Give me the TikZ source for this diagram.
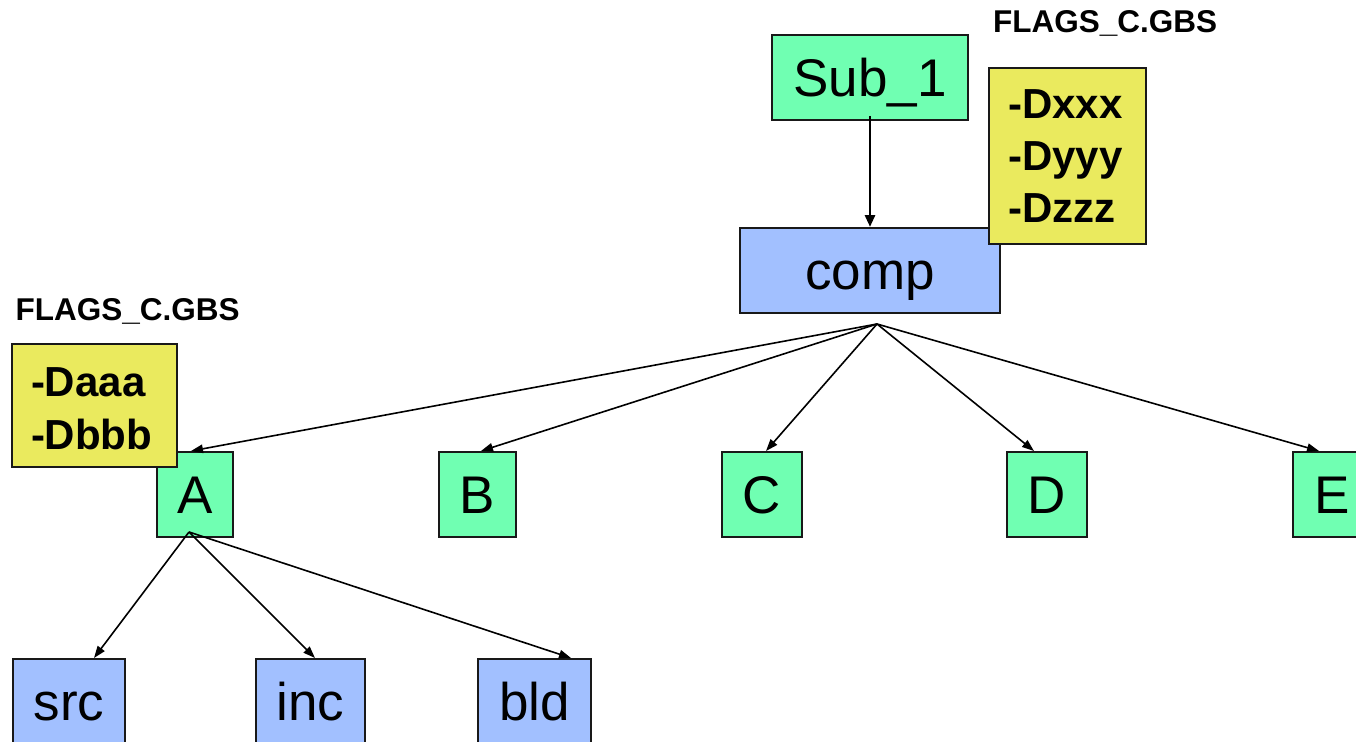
\documentclass[tikz,border=0pt]{standalone}
\usepackage{fontspec}
\setmainfont{Liberation Sans}
\usetikzlibrary{arrows.meta}
\definecolor{boxgreen}{RGB}{112,255,178}
\definecolor{boxblue}{RGB}{162,192,255}
\definecolor{flagyellow}{RGB}{234,234,94}
\definecolor{edgegray}{RGB}{25,25,25}
\begin{document}
\begin{tikzpicture}[x=1pt,y=-1pt,
  basebox/.style={draw=edgegray, line width=2pt, inner sep=0pt, anchor=north west,
    font=\fontsize{53}{60}\selectfont, text height=38pt, text depth=0pt, minimum height=85pt},
  dirbox/.style={basebox, fill=boxgreen},
  leafbox/.style={basebox, fill=boxblue},
  flagbox/.style={draw=edgegray, line width=2pt, fill=flagyellow, anchor=north west,
    inner ysep=0pt, inner xsep=19pt, align=left, font=\fontsize{42}{52}\selectfont\bfseries},
  flaglabel/.style={anchor=base west, inner sep=0pt, font=\fontsize{31.5}{36}\selectfont\bfseries},
  link/.style={line width=1.6pt, -{Triangle[length=12pt,width=8.5pt]}},
  mainlink/.style={line width=2.8pt, -{Triangle[length=12pt,width=10pt]}}
]
\useasboundingbox (0,0) rectangle (1356,741);
\clip (0,0) rectangle (1356,741);

% top part
\node[dirbox, minimum width=196pt] (sub1) at (771,34) {Sub\_1};
\node[leafbox, minimum width=260pt] (comp) at (739,227) {comp};
\draw[mainlink] ([yshift=5pt]sub1.south) -- (comp.north);
\node[flagbox, text width=119pt, minimum height=176pt] (flagtop) at (988,67) {-Dxxx\\-Dyyy\\-Dzzz};
\node[flaglabel] (flagtoplabel) at (993,33) {FLAGS\_C.GBS};

% middle row
\node[dirbox, minimum width=76pt] (A) at (156,451) {A};
\node[dirbox, minimum width=77pt] (B) at (438,451) {B};
\node[dirbox, minimum width=80pt] (C) at (721,451) {C};
\node[dirbox, minimum width=80pt] (D) at (1006,451) {D};
\node[dirbox, minimum width=78pt] (E) at (1292,451) {E};

\node[flagbox, text width=127pt, minimum height=123pt, font=\fontsize{42}{53}\selectfont\bfseries, text depth=46pt] (flagleft) at (11,343) {-Daaa\\-Dbbb};
\node[flaglabel] (flagleftlabel) at (15.5,320.5) {FLAGS\_C.GBS};

% bottom row
\node[leafbox, minimum width=112pt] (src) at (12,658) {src};
\node[leafbox, minimum width=109pt] (inc) at (255,658) {inc};
\node[leafbox, minimum width=113pt] (bld) at (477,658) {bld};

% connectors
\coordinate (compapex) at ([xshift=7pt,yshift=-10pt]comp.south);
\coordinate (Aapex) at ([xshift=-6pt,yshift=6pt]A.south);
\draw[link] (compapex) -- ([xshift=-4pt]A.north);
\draw[link] (compapex) -- ([xshift=3.5pt]B.north);
\draw[link] (compapex) -- ([xshift=4pt]C.north);
\draw[link] (compapex) -- ([xshift=-13pt]D.north);
\draw[link] (compapex) -- ([xshift=-13pt]E.north);
\draw[link] (Aapex) -- ([xshift=25pt]src.north);
\draw[link] (Aapex) -- ([xshift=4.5pt]inc.north);
\draw[link] (Aapex) -- ([xshift=36.5pt]bld.north);
\end{tikzpicture}
\end{document}
